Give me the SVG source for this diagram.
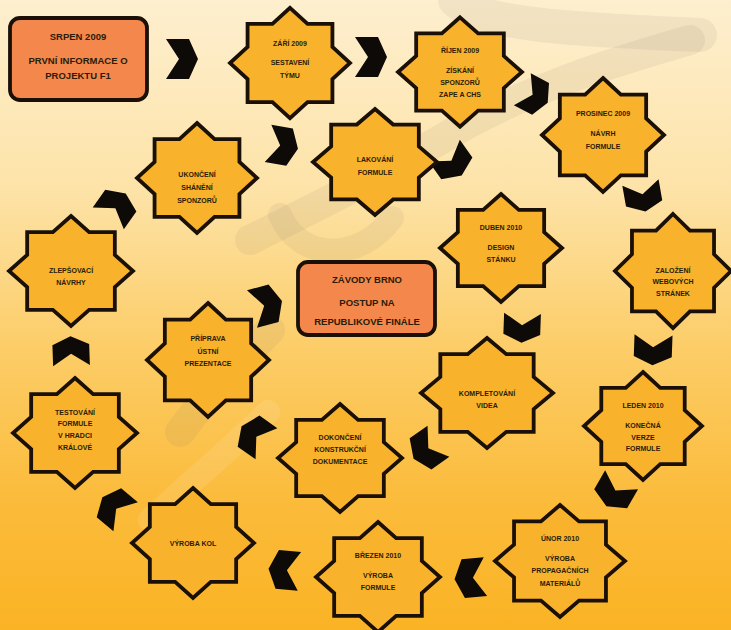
<svg xmlns="http://www.w3.org/2000/svg" xmlns:xlink="http://www.w3.org/1999/xlink" width="731" height="630" viewBox="0 0 731 630">
<defs>
<linearGradient id="bg" x1="0" y1="0" x2="0" y2="1">
<stop offset="0" stop-color="#fdefcf"/>
<stop offset="0.3" stop-color="#fde3a8"/>
<stop offset="0.55" stop-color="#fccd68"/>
<stop offset="0.8" stop-color="#fbbb3a"/>
<stop offset="1" stop-color="#fab324"/>
</linearGradient>
<path id="star" d="M0,-60 L17.57,-42.43 L42.43,-42.43 L42.43,-17.57 L60,0 L42.43,17.57 L42.43,42.43 L17.57,42.43 L0,60 L-17.57,42.43 L-42.43,42.43 L-42.43,17.57 L-60,0 L-42.43,-17.57 L-42.43,-42.43 L-17.57,-42.43 Z" fill="#f8b22c" stroke="#1a1008" stroke-width="3.8" stroke-linejoin="miter" vector-effect="non-scaling-stroke"/>
<path id="chev" d="M-16,-20 L7,-20 L16,0 L7,20 L-16,20 L-3,0 Z" fill="#0d0a08"/>
<style>
.t{font-family:"Liberation Sans",Arial,sans-serif;font-weight:bold;font-size:7px;text-anchor:middle;fill:#2b1c08}
.bt{font-family:"Liberation Sans",Arial,sans-serif;font-weight:bold;font-size:9.5px;text-anchor:middle;fill:#2b1c08}
.box{fill:#f4884c;stroke:#1a1008;stroke-width:3.8}
.wm{fill:none;stroke:#7a7060;stroke-opacity:0.09;stroke-linecap:round}
</style>
</defs>
<rect x="0" y="0" width="731" height="630" fill="url(#bg)"/>
<g id="watermark">
<path class="wm" d="M455,0 C480,25 580,30 700,35" stroke-width="34"/>
<path class="wm" d="M690,40 C620,60 520,90 440,140 C380,175 320,205 250,240" stroke-width="30"/>
<path class="wm" d="M280,215 C300,262 360,262 392,218" stroke-width="24"/>
<path class="wm" d="M270,330 C240,362 210,392 180,432" stroke-width="30"/>
<path d="M268,412 C230,450 190,482 150,520" fill="none" stroke="#ffffff" stroke-opacity="0.1" stroke-width="24" stroke-linecap="round"/>
</g>
<g id="connectors">
<use href="#chev" transform="translate(182,59)"/>
<use href="#chev" transform="translate(371,57)"/>
<use href="#chev" transform="translate(535,96) rotate(28) scale(0.9)"/>
<use href="#chev" transform="translate(643,197) rotate(80) scale(0.92)"/>
<use href="#chev" transform="translate(653,350) rotate(92) scale(0.95)"/>
<use href="#chev" transform="translate(614,493) rotate(120) scale(0.95)"/>
<use href="#chev" transform="translate(470,578) rotate(175) scale(0.97)"/>
<use href="#chev" transform="translate(284,570) rotate(185) scale(0.97)"/>
<use href="#chev" transform="translate(114,507) rotate(220) scale(0.95)"/>
<use href="#chev" transform="translate(71,351) rotate(268) scale(0.92)"/>
<use href="#chev" transform="translate(117,206) rotate(305) scale(0.95)"/>
<use href="#chev" transform="translate(283,146) rotate(10) scale(0.95)"/>
<use href="#chev" transform="translate(453,163) rotate(55) scale(0.95)"/>
<use href="#chev" transform="translate(522,328) rotate(92) scale(0.92)"/>
<use href="#chev" transform="translate(426,450) rotate(145) scale(0.95)"/>
<use href="#chev" transform="translate(254,435) rotate(215) scale(0.95)"/>
<use href="#chev" transform="translate(267,305) rotate(345) scale(0.97)"/>
</g>
<g id="n1">
<rect class="box" x="10" y="18" width="137" height="82" rx="10"/>
<text class="bt" x="78" y="39.5">SRPEN 2009</text>
<text class="bt" x="78" y="63.5">PRVNÍ INFORMACE O</text>
<text class="bt" x="78" y="78.5">PROJEKTU F1</text>
</g>
<g id="n2">
<use href="#star" transform="translate(290,63) scale(1.0,0.92)"/>
<text class="t" x="290" y="45.5">ZÁŘÍ 2009</text>
<text class="t" x="290" y="64.5">SESTAVENÍ</text>
<text class="t" x="290" y="77.5">TÝMU</text>
</g>
<g id="n3">
<use href="#star" transform="translate(460,72) scale(1.033,0.91)"/>
<text class="t" x="460" y="52.5">ŘÍJEN 2009</text>
<text class="t" x="460" y="73">ZÍSKÁNÍ</text>
<text class="t" x="460" y="84.5">SPONZORŮ</text>
<text class="t" x="460" y="97">ZAPE A CHS</text>
</g>
<g id="n4">
<use href="#star" transform="translate(603,135) scale(1.017,0.95)"/>
<text class="t" x="603" y="115.5">PROSINEC 2009</text>
<text class="t" x="603" y="135.5">NÁVRH</text>
<text class="t" x="603" y="148.5">FORMULE</text>
</g>
<g id="n5">
<use href="#star" transform="translate(673,271) scale(0.967,0.95)"/>
<text class="t" x="673" y="272.5">ZALOŽENÍ</text>
<text class="t" x="673" y="284">WEBOVÝCH</text>
<text class="t" x="673" y="295.5">STRÁNEK</text>
</g>
<g id="n6">
<use href="#star" transform="translate(643,426) scale(0.983,0.9)"/>
<text class="t" x="643" y="407.5">LEDEN 2010</text>
<text class="t" x="643" y="427.5">KONEČNÁ</text>
<text class="t" x="643" y="439.5">VERZE</text>
<text class="t" x="643" y="450.5">FORMULE</text>
</g>
<g id="n7">
<use href="#star" transform="translate(560,561) scale(1.083,0.933)"/>
<text class="t" x="560" y="540.5">ÚNOR 2010</text>
<text class="t" x="560" y="560.5">VÝROBA</text>
<text class="t" x="560" y="572.5">PROPAGAČNÍCH</text>
<text class="t" x="560" y="585.5">MATERIÁLŮ</text>
</g>
<g id="n8">
<use href="#star" transform="translate(378,577) scale(1.033,0.917)"/>
<text class="t" x="378" y="557.5">BŘEZEN 2010</text>
<text class="t" x="378" y="577.5">VÝROBA</text>
<text class="t" x="378" y="589.5">FORMULE</text>
</g>
<g id="n9">
<use href="#star" transform="translate(193,543) scale(1.017,0.917)"/>
<text class="t" x="193" y="545.5">VÝROBA KOL</text>
</g>
<g id="n10">
<use href="#star" transform="translate(75,433) scale(1.033,0.917)"/>
<text class="t" x="75" y="414.5">TESTOVÁNÍ</text>
<text class="t" x="75" y="425.5">FORMULE</text>
<text class="t" x="75" y="437.5">V HRADCI</text>
<text class="t" x="75" y="449.5">KRÁLOVÉ</text>
</g>
<g id="n11">
<use href="#star" transform="translate(71,271) scale(1.033,0.917)"/>
<text class="t" x="71" y="272.5">ZLEPŠOVACÍ</text>
<text class="t" x="71" y="284.5">NÁVRHY</text>
</g>
<g id="n12">
<use href="#star" transform="translate(197,178) scale(1.0,0.917)"/>
<text class="t" x="197" y="176.5">UKONČENÍ</text>
<text class="t" x="197" y="189.5">SHÁNĚNÍ</text>
<text class="t" x="197" y="202.5">SPONZORŮ</text>
</g>
<g id="n13">
<use href="#star" transform="translate(375,162) scale(1.033,0.883)"/>
<text class="t" x="375" y="161.5">LAKOVÁNÍ</text>
<text class="t" x="375" y="174.5">FORMULE</text>
</g>
<g id="n14">
<use href="#star" transform="translate(501,248) scale(1.017,0.9)"/>
<text class="t" x="501" y="229.5">DUBEN 2010</text>
<text class="t" x="501" y="249.5">DESIGN</text>
<text class="t" x="501" y="261.5">STÁNKU</text>
</g>
<g id="n15">
<use href="#star" transform="translate(487,393) scale(1.1,0.917)"/>
<text class="t" x="487" y="395.5">KOMPLETOVÁNÍ</text>
<text class="t" x="487" y="407.5">VIDEA</text>
</g>
<g id="n16">
<use href="#star" transform="translate(340,458) scale(1.033,0.9)"/>
<text class="t" x="340" y="439.5">DOKONČENÍ</text>
<text class="t" x="340" y="451.5">KONSTRUKČNÍ</text>
<text class="t" x="340" y="463.5">DOKUMENTACE</text>
</g>
<g id="n17">
<use href="#star" transform="translate(208,360) scale(1.017,0.95)"/>
<text class="t" x="208" y="340.5">PŘÍPRAVA</text>
<text class="t" x="208" y="353.5">ÚSTNÍ</text>
<text class="t" x="208" y="365.5">PREZENTACE</text>
</g>
<g id="n18">
<rect class="box" x="298" y="262" width="137" height="73" rx="10"/>
<text class="bt" x="367" y="282.5">ZÁVODY BRNO</text>
<text class="bt" x="367" y="305.5">POSTUP NA</text>
<text class="bt" x="367" y="324.5">REPUBLIKOVÉ FINÁLE</text>
</g>
</svg>
